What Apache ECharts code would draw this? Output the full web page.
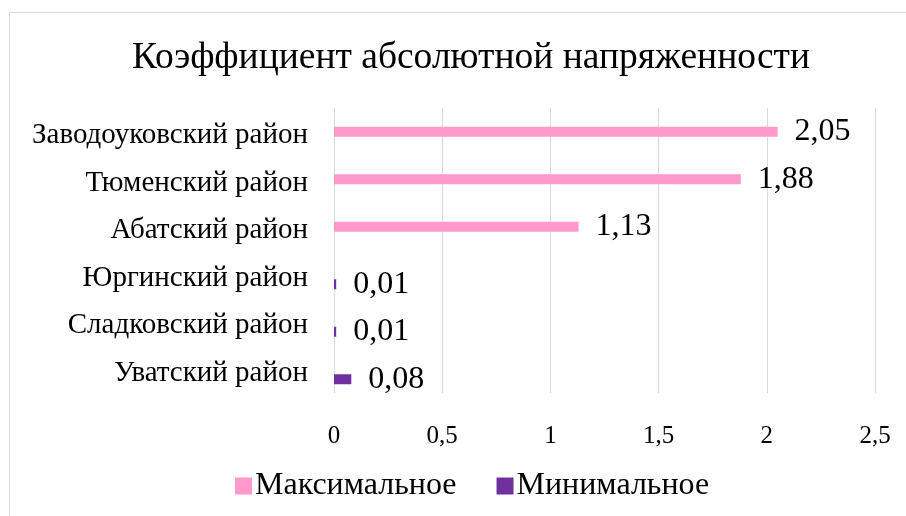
<!DOCTYPE html>
<html>
<head>
<meta charset="utf-8">
<script src="https://cdn.jsdelivr.net/npm/echarts@6/dist/echarts.min.js"></script>
<style>
  html, body { margin: 0; padding: 0; background: #fff; }
  #chart { width: 906px; height: 516px; }
</style>
</head>
<body>
<div id="chart"></div>
<script>
  // районы снизу вверх (ось категорий идёт снизу)
  const districts = ['Уватский район', 'Сладковский район', 'Юргинский район', 'Абатский район', 'Тюменский район', 'Заводоуковский район']
  const maxValues = [null, null, null, 1.13, 1.88, 2.05]
  const minValues = [0.08, 0.01, 0.01, null, null, null]
  const xTicks = [0, 0.5, 1, 1.5, 2, 2.5]

  const font = '"Liberation Serif", "Times New Roman", serif'
  const fmt = v => String(v).replace('.', ',')

  const chart = echarts.init(document.getElementById('chart'), null, { renderer: 'canvas' })

  const label = {
    show: true,
    position: 'right',
    distance: 17,
    fontFamily: font,
    fontSize: 32,
    color: '#000',
    formatter: p => fmt(p.value)
  }

  chart.setOption({
    animation: false,
    graphic: [{
      type: 'rect',
      shape: { x: 9.5, y: 12.5, width: 1000, height: 1000 },
      style: { fill: 'none', stroke: '#d9d9d9', lineWidth: 1 },
      silent: true
    }],
    title: {
      text: 'Коэффициент абсолютной напряженности',
      left: 466,
      textAlign: 'center',
      top: 34,
      textStyle: { fontFamily: font, fontSize: 37.5, fontWeight: 'normal', color: '#000' }
    },
    legend: {
      bottom: 9,
      left: 230,
      itemWidth: 17,
      itemHeight: 17,
      itemGap: 40,
      icon: 'rect',
      textStyle: { fontFamily: font, fontSize: 32, color: '#000', padding: [0, 0, 0, -2] },
      data: ['Максимальное', 'Минимальное']
    },
    grid: { left: 334, right: 31, top: 108, bottom: 123 },
    xAxis: {
      type: 'value',
      min: 0, max: 2.5, interval: 0.5,
      axisLine: { show: false },
      axisTick: { show: false },
      splitLine: { lineStyle: { color: '#d9d9d9', width: 1 } },
      axisLabel: { fontFamily: font, fontSize: 25, color: '#000', margin: 31, formatter: v => xTicks.includes(v) ? fmt(v) : '' }
    },
    yAxis: {
      type: 'category',
      data: districts,
      axisLine: { show: false },
      axisTick: { show: false },
      axisLabel: {
        margin: 26,
        formatter: v => '{c|' + v + '}',
        rich: { c: { fontFamily: font, fontSize: 29, color: '#000', padding: [8, 0, 0, 0] } }
      }
    },
    series: [
      // пустой ряд-заглушка: сдвигает кластер, как в исходной диаграмме
      { name: '', type: 'bar', barWidth: 10, barGap: '0%', silent: true, data: [] },
      {
        name: 'Максимальное', type: 'bar',
        barWidth: 10, barGap: '0%',
        itemStyle: { color: '#ff99cc' },
        label,
        data: maxValues
      },
      {
        name: 'Минимальное', type: 'bar',
        barWidth: 10, barGap: '0%',
        itemStyle: { color: '#7030a0' },
        label,
        data: minValues
      }
    ]
  })
</script>
</body>
</html>
